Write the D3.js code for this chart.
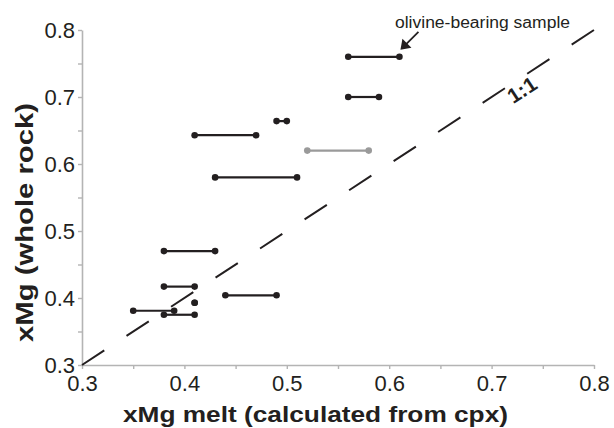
<!DOCTYPE html>
<html>
<head>
<meta charset="utf-8">
<script src="https://cdn.jsdelivr.net/npm/d3@7"></script>
<style>
  html, body { margin: 0; padding: 0; background: #fff; }
  svg { display: block; }
</style>
</head>
<body>
<svg id="chart" width="614" height="428"></svg>
<script>
// ---- data ----
const xTicks = [0.3, 0.35, 0.4, 0.45, 0.5, 0.55, 0.6, 0.65, 0.7, 0.75, 0.8];
const yTicks = [0.3, 0.35, 0.4, 0.45, 0.5, 0.55, 0.6, 0.65, 0.7, 0.75, 0.8];
// whole-rock xMg of each sample
const segY  = [0.760, 0.700, 0.664, 0.643, 0.620, 0.580, 0.470, 0.417, 0.393, 0.381, 0.375, 0.404];
// range of melt xMg calculated from cpx
const segX1 = [0.560, 0.560, 0.490, 0.410, 0.520, 0.430, 0.380, 0.380, 0.410, 0.350, 0.380, 0.440];
const segX2 = [0.610, 0.590, 0.500, 0.470, 0.580, 0.510, 0.430, 0.410, 0.410, 0.390, 0.410, 0.490];
const segGroup = ["b","b","b","b","g","b","b","b","b","b","b","b"];
const oneToOne = [[0.3, 0.3], [0.8, 0.8]];
const olivineIndex = 0;

const colors = { b: "#231f20", g: "#9a9a9a" };

const svg = d3.select("#chart");
const x = d3.scaleLinear().domain([0.3, 0.8]).range([82, 594]);
const y = d3.scaleLinear().domain([0.3, 0.8]).range([365, 30]);

const fmt = v => (Math.round(v * 100) % 10 === 0) ? d3.format(".1f")(v) : "";

// axes
const gx = svg.append("g").attr("transform", `translate(0,${y(0.3)})`)
  .call(d3.axisBottom(x).tickValues(xTicks).tickFormat(fmt).tickSizeInner(4).tickSizeOuter(0).tickPadding(6));
const gy = svg.append("g").attr("transform", `translate(${x(0.3)},0)`)
  .call(d3.axisLeft(y).tickValues(yTicks).tickFormat(fmt).tickSizeInner(4).tickSizeOuter(0).tickPadding(3));

[gx, gy].forEach(g => {
  g.select(".domain").attr("stroke", "#b4b4b4").attr("stroke-width", 1.6);
  g.selectAll(".tick line").attr("stroke", "#b4b4b4").attr("stroke-width", 1.4);
  g.selectAll(".tick text").attr("fill", "#231f20")
    .style("font-family", "'Liberation Sans', Arial, sans-serif").style("font-size", "22px");
});

// 1:1 line
svg.append("path")
  .datum(oneToOne)
  .attr("d", d3.line().x(d => x(d[0])).y(d => y(d[1])))
  .attr("fill", "none").attr("stroke", "#231f20").attr("stroke-width", 2)
  .attr("stroke-dasharray", "26.6,26.6");

const ang = -Math.atan2(y(0.3) - y(0.8), x(0.8) - x(0.3)) * 180 / Math.PI;
svg.append("text")
  .attr("transform", `translate(526,96) rotate(${ang})`)
  .attr("text-anchor", "middle")
  .attr("fill", "#231f20")
  .style("font-family", "'Liberation Sans', Arial, sans-serif")
  .style("font-size", "21px").style("font-weight", "bold")
  .text("1:1");

// segments
const segs = segY.map((v, i) => ({ y: v, x1: segX1[i], x2: segX2[i], g: segGroup[i] }));
svg.append("g").selectAll("line").data(segs).join("line")
  .attr("x1", d => x(d.x1)).attr("x2", d => x(d.x2))
  .attr("y1", d => y(d.y)).attr("y2", d => y(d.y))
  .attr("stroke", d => colors[d.g]).attr("stroke-width", 2.2);

const pts = segs.flatMap(d => [{ x: d.x1, y: d.y, g: d.g }, { x: d.x2, y: d.y, g: d.g }]);
svg.append("g").selectAll("circle").data(pts).join("circle")
  .attr("cx", d => x(d.x)).attr("cy", d => y(d.y)).attr("r", 3.3)
  .attr("fill", d => colors[d.g]);

// olivine annotation
const oli = segs[olivineIndex];
const tipX = x(oli.x2) + 1, tipY = y(oli.y) - 7;
svg.append("line")
  .attr("x1", tipX + 18).attr("y1", tipY - 18)
  .attr("x2", tipX + 5).attr("y2", tipY - 5)
  .attr("stroke", "#231f20").attr("stroke-width", 1.8);
svg.append("path")
  .attr("d", `M${tipX},${tipY} L${tipX + 2},${tipY - 11} L${tipX + 11},${tipY - 2} Z`)
  .attr("fill", "#231f20");
svg.append("text")
  .attr("x", 395).attr("y", 28)
  .attr("fill", "#231f20")
  .attr("textLength", 175).attr("lengthAdjust", "spacingAndGlyphs")
  .style("font-family", "'Liberation Sans', Arial, sans-serif")
  .style("font-size", "16px")
  .text("olivine-bearing sample");

// axis titles
svg.append("text")
  .attr("x", 123).attr("y", 422)
  .attr("fill", "#231f20")
  .attr("textLength", 385).attr("lengthAdjust", "spacingAndGlyphs")
  .style("font-family", "'Liberation Sans', Arial, sans-serif")
  .style("font-size", "22px").style("font-weight", "bold")
  .text("xMg melt (calculated from cpx)");

svg.append("text")
  .attr("transform", "translate(33,342) rotate(-90)")
  .attr("fill", "#231f20")
  .attr("textLength", 239).attr("lengthAdjust", "spacingAndGlyphs")
  .style("font-family", "'Liberation Sans', Arial, sans-serif")
  .style("font-size", "24px").style("font-weight", "bold")
  .text("xMg (whole rock)");
</script>
</body>
</html>
